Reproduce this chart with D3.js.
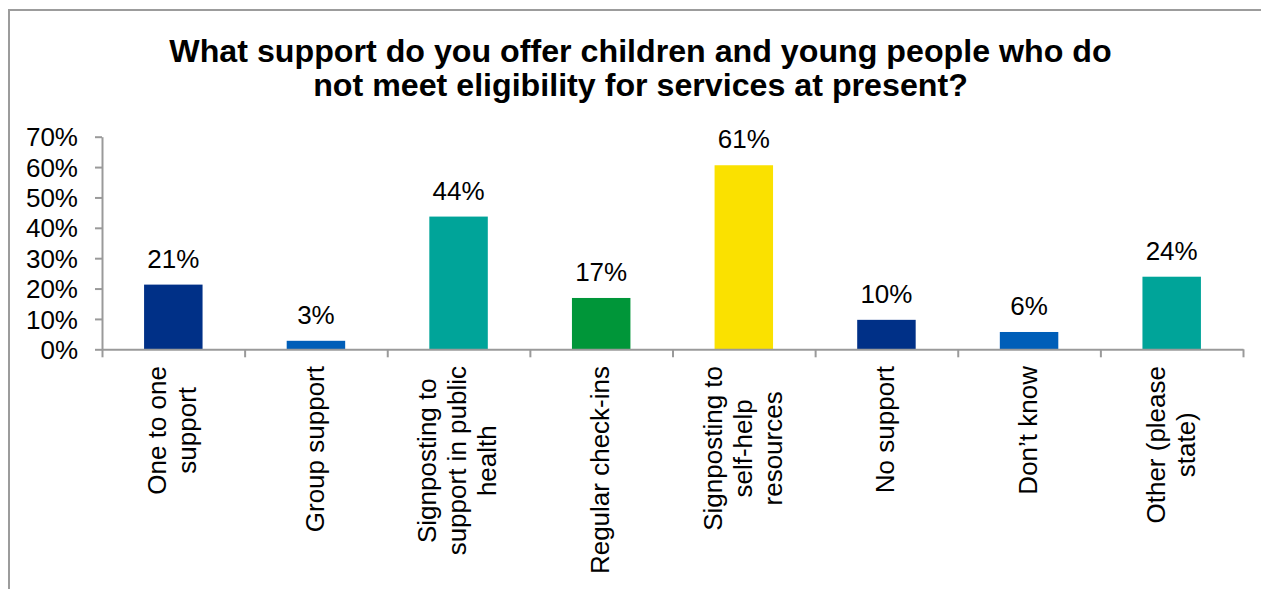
<!DOCTYPE html>
<html>
<head>
<meta charset="utf-8">
<script src="https://cdn.jsdelivr.net/npm/d3@7"></script>
<style>
  html, body { margin: 0; padding: 0; background: #fff; }
  svg { display: block; font-family: "Liberation Sans", Arial, sans-serif; }
</style>
</head>
<body>
<svg id="chart" width="1261" height="589"></svg>
<script>
const titleLines = [
  "What support do you offer children and young people who do",
  "not meet eligibility for services at present?"
];
const categories = [
  ["One to one", "support"],
  ["Group support"],
  ["Signposting to", "support in public", "health"],
  ["Regular check-ins"],
  ["Signposting to", "self-help", "resources"],
  ["No support"],
  ["Don\u2019t know"],
  ["Other (please", "state)"]
];
const values = [0.213, 0.028, 0.437, 0.169, 0.606, 0.097, 0.057, 0.239];
const barColors = ["#003087", "#005EB8", "#00A499", "#009639", "#FAE100", "#003087", "#005EB8", "#00A499"];
const yTicks = [0, 0.1, 0.2, 0.3, 0.4, 0.5, 0.6, 0.7];

const svg = d3.select("#chart");
const fontSize = 26;

// Outer frame
svg.append("rect")
  .attr("x", 9).attr("y", 10)
  .attr("width", 1262).attr("height", 600)
  .attr("fill", "#fff")
  .attr("stroke", "#9c9c9c").attr("stroke-width", 2);

// Title
svg.append("g").selectAll("text").data(titleLines).join("text")
  .attr("x", 640.5)
  .attr("y", (d, i) => 62 + i * 33.5)
  .attr("text-anchor", "middle")
  .attr("font-weight", "bold")
  .attr("font-size", 32.2)
  .attr("fill", "#000")
  .text(d => d);

const plotLeft = 102, plotRight = 1243, plotTop = 136.7, plotBottom = 349.3;
const idx = d3.range(categories.length);

const x = d3.scaleBand().domain(idx).range([plotLeft, plotRight])
  .paddingInner(0.59).paddingOuter(0.295);
const xEdge = d3.scaleLinear().domain([0, categories.length]).range([plotLeft, plotRight]);
const y = d3.scaleLinear().domain([0, 0.7]).range([plotBottom, plotTop]);

// Y axis
const yAxis = svg.append("g")
  .attr("transform", `translate(${plotLeft},0)`)
  .call(d3.axisLeft(y).tickValues(yTicks).tickFormat(d3.format(".0%"))
    .tickSize(7).tickSizeOuter(0).tickPadding(17));
yAxis.selectAll("path, line").attr("stroke", "#9a9a9a").attr("stroke-width", 2);
yAxis.selectAll("text").attr("font-size", fontSize).attr("fill", "#000")
  .attr("font-family", "Liberation Sans, Arial, sans-serif").attr("dy", "0.35em");

// Bars
svg.append("g").selectAll("rect").data(values).join("rect")
  .attr("x", (d, i) => x(i))
  .attr("width", x.bandwidth())
  .attr("y", d => y(d))
  .attr("height", d => y(0) - y(d))
  .attr("fill", (d, i) => barColors[i]);

// X axis (ticks at category boundaries)
const xAxis = svg.append("g")
  .attr("transform", `translate(0,${plotBottom})`)
  .call(d3.axisBottom(xEdge).tickValues(d3.range(categories.length + 1))
    .tickFormat("").tickSize(8).tickSizeOuter(0));
xAxis.selectAll("path, line").attr("stroke", "#9a9a9a").attr("stroke-width", 2);

// Data labels
svg.append("g").selectAll("text").data(values).join("text")
  .attr("x", (d, i) => x(i) + x.bandwidth() / 2)
  .attr("y", d => y(d) - 17)
  .attr("text-anchor", "middle")
  .attr("font-size", fontSize)
  .attr("fill", "#000")
  .text(d => d3.format(".0%")(d));

// Category labels (rotated, lines centered on each other, block top at ~366)
const lineH = 30;
const catG = svg.append("g");
categories.forEach((lines, i) => {
  const cx = x(i) + x.bandwidth() / 2;
  const g = catG.append("g");
  const t = g.append("text")
    .attr("text-anchor", "middle")
    .attr("font-size", fontSize)
    .attr("fill", "#000");
  const n = lines.length;
  lines.forEach((ln, j) => {
    t.append("tspan")
      .attr("x", 0)
      .attr("y", (j - (n - 1) / 2) * lineH)
      .attr("dy", "0.3em")
      .text(ln);
  });
  let maxLen = 0;
  t.selectAll("tspan").each(function () {
    maxLen = Math.max(maxLen, this.getComputedTextLength());
  });
  g.attr("transform", `translate(${cx},${366 + maxLen / 2}) rotate(-90)`);
});
</script>
</body>
</html>
